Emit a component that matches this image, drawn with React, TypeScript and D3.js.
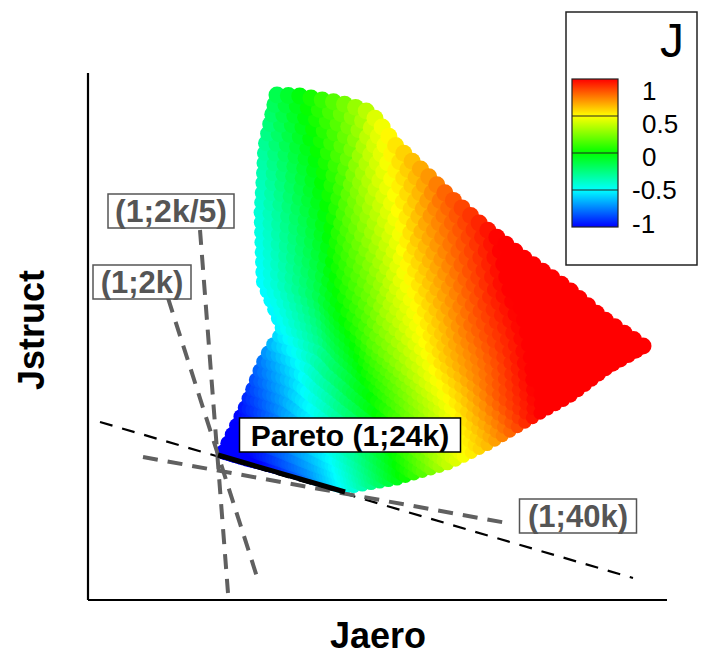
import React, { useMemo } from "react";
import * as d3 from "d3";

// ---- Data (Jaero, Jstruct in plot units; J value of each boundary sample) ----
// Upper boundary of the design-space image (from top-left corner to right tip)
const topEdgeX = [1.89, 2.12, 2.52, 2.77, 2.89, 3.08, 3.40, 3.57, 3.97, 4.37, 4.80, 5.14, 5.55];
const topEdgeY = [5.05, 5.04, 4.97, 4.90, 4.80, 4.54, 4.24, 4.07, 3.72, 3.41, 3.11, 2.82, 2.54];
const topEdgeJ = [-0.15, -0.02, 0.2, 0.35, 0.45, 0.55, 0.7, 0.8, 0.95, 1.1, 1.2, 1.3, 1.4];
// Lower-right boundary (from Pareto end to right tip)
const rightEdgeX = [2.57, 3.09, 3.62, 4.02, 4.42, 4.82, 5.19, 5.55];
const rightEdgeY = [1.12, 1.21, 1.37, 1.57, 1.81, 2.04, 2.33, 2.54];
const rightEdgeJ = [-0.5, -0.05, 0.4, 0.65, 0.95, 1.15, 1.3, 1.4];
// Left boundary (from Pareto start up to top-left corner)
const leftEdgeX = [1.35, 1.41, 1.58, 1.77, 1.95, 1.75, 1.73, 1.77, 1.89];
const leftEdgeY = [1.48, 1.59, 1.94, 2.42, 2.70, 3.19, 3.87, 4.53, 5.05];
const leftEdgeJ = [-1.2, -1.1, -0.95, -0.75, -0.52, -0.5, -0.42, -0.3, -0.15];
// Pareto front boundary
const paretoEdgeX = [1.35, 1.76, 2.16, 2.57];
const paretoEdgeY = [1.48, 1.36, 1.24, 1.12];
const paretoEdgeJ = [-1.2, -1.0, -0.8, -0.5];

// Pareto segment and tangent lines
const paretoLine = [[1.30, 1.45], [2.57, 1.08]];
const tangentLine = [[0.12, 1.78], [5.45, 0.22]];
const grayLines = [
  { name: "(1;40k)", pts: [[0.55, 1.43], [4.19, 0.77]] },
  { name: "(1;2k/5)", pts: [[1.12, 3.70], [1.40, 0.07]] },
  { name: "(1;2k)", pts: [[0.80, 3.02], [1.70, 0.20]] },
];
// Labels: text and centre (data units)
const labelTexts = ["(1;2k/5)", "(1;2k)", "Pareto (1;24k)", "(1;40k)"];
const labelX = [0.83, 0.54, 2.62, 4.90];
const labelY = [3.89, 3.18, 1.65, 0.84];
const labelDark = [false, false, true, false];

const legendValues = [1, 0.5, 0, -0.5, -1];
const colorStops = [-1, -0.5, 0, 0.5, 1];
const colorRange = ["#0000ff", "#00ffff", "#00ff00", "#ffff00", "#ff0000"];

const W = 702, H = 655;
const xScale = d3.scaleLinear().domain([0, 5.79]).range([88, 667]);
const yScale = d3.scaleLinear().domain([0, 5.27]).range([600, 73]);
const color = d3.scaleLinear<string>().domain(colorStops).range(colorRange).clamp(true);

type P = { x: number; y: number; j: number };

function makeCurve(xs: number[], ys: number[], js: number[]) {
  const pts: P[] = xs.map((x, i) => ({ x: xScale(x), y: yScale(ys[i]), j: js[i] }));
  const cum = [0];
  for (let i = 1; i < pts.length; i++) {
    cum.push(cum[i - 1] + Math.hypot(pts[i].x - pts[i - 1].x, pts[i].y - pts[i - 1].y));
  }
  const L = cum[cum.length - 1];
  return (u: number): P => {
    const d = u * L;
    let i = 0;
    while (i < pts.length - 2 && cum[i + 1] < d) i++;
    const f = cum[i + 1] > cum[i] ? Math.min(1, Math.max(0, (d - cum[i]) / (cum[i + 1] - cum[i]))) : 0;
    return {
      x: pts[i].x + f * (pts[i + 1].x - pts[i].x),
      y: pts[i].y + f * (pts[i + 1].y - pts[i].y),
      j: pts[i].j + f * (pts[i + 1].j - pts[i].j),
    };
  };
}

function useCells() {
  return useMemo(() => {
    const bottom = makeCurve(paretoEdgeX, paretoEdgeY, paretoEdgeJ);
    const top = makeCurve(topEdgeX, topEdgeY, topEdgeJ);
    const left = makeCurve(leftEdgeX, leftEdgeY, leftEdgeJ);
    const right = makeCurve(rightEdgeX, rightEdgeY, rightEdgeJ);
    const P00 = bottom(0), P10 = bottom(1), P01 = top(0), P11 = top(1);
    const NS = 40, NT = 38;
    const grid: P[][] = [];
    for (let it = 0; it <= NT; it++) {
      const t = it / NT;
      const row: P[] = [];
      for (let is = 0; is <= NS; is++) {
        const s = is / NS;
        const b = bottom(s), tp = top(s), l = left(t), r = right(t);
        const f = (k: "x" | "y" | "j") =>
          (1 - t) * b[k] + t * tp[k] + (1 - s) * l[k] + s * r[k] -
          ((1 - s) * (1 - t) * P00[k] + s * (1 - t) * P10[k] + (1 - s) * t * P01[k] + s * t * P11[k]);
        row.push({ x: f("x"), y: f("y"), j: f("j") });
      }
      grid.push(row);
    }
    const cells: { x: number; y: number; r: number; c: string }[] = [];
    for (let it = 0; it <= NT; it++) {
      for (let is = 0; is <= NS; is++) {
        const p = grid[it][is];
        const ns = grid[it][is < NS ? is + 1 : is - 1];
        const nt = grid[it < NT ? it + 1 : it - 1][is];
        const ds = Math.hypot(ns.x - p.x, ns.y - p.y);
        const dt = Math.hypot(nt.x - p.x, nt.y - p.y);
        const r = Math.max(3.5, Math.min(8.5, 0.75 * Math.max(ds, dt)));
        cells.push({ x: p.x, y: p.y, r, c: color(p.j) });
      }
    }
    return cells;
  }, []);
}

const FONT = "'Liberation Sans', Arial, Helvetica, sans-serif";

export default function App() {
  const cells = useCells();
  const cbX = 572, cbW = 46;
  const cbY = d3.scaleLinear().domain([-1, 1]).range([227, 79]);
  const cbLabelY = d3.scaleLinear().domain([-1, 1]).range([223, 90]);
  const gradStops = d3.range(0, 21).map((i) => {
    const v = 1 - (2 * i) / 20;
    return { off: i / 20, c: color(v) };
  });
  const line = (pts: number[][]) =>
    d3.line<number[]>().x((d) => xScale(d[0])).y((d) => yScale(d[1]))(pts) || "";

  const labelW = [126, 98, 221, 117];
  const labelFont = [32, 31, 30, 31];

  return (
    <svg
      width={W}
      height={H}
      style={{ position: "absolute", left: 0, top: 0, background: "#fff", display: "block" }}
      fontFamily={FONT}
    >
      <defs>
        <linearGradient id="cbgrad" x1="0" y1="0" x2="0" y2="1">
          {gradStops.map((s, i) => (
            <stop key={i} offset={s.off} stopColor={s.c} />
          ))}
        </linearGradient>
      </defs>
      <rect x={0} y={0} width={W} height={H} fill="#fff" />

      {/* design-space scatter */}
      <g>
        {cells.map((c, i) => (
          <circle key={i} cx={c.x} cy={c.y} r={c.r} fill={c.c} />
        ))}
      </g>

      {/* axes */}
      <line x1={xScale(0)} y1={yScale(0)} x2={xScale(0)} y2={yScale(5.27)} stroke="#000" strokeWidth={2.2} />
      <line x1={xScale(0)} y1={yScale(0)} x2={xScale(5.79)} y2={yScale(0)} stroke="#000" strokeWidth={2.2} />

      {/* tangent lines */}
      <path d={line(tangentLine)} stroke="#000" strokeWidth={2.2} strokeDasharray="13,10" fill="none" />
      {grayLines.map((g, i) => (
        <path key={i} d={line(g.pts)} stroke="#606060" strokeWidth={4} strokeDasharray="15,10" fill="none" />
      ))}
      <path d={line(paretoLine)} stroke="#000" strokeWidth={5} fill="none" />

      {/* labels */}
      {labelTexts.map((t, i) => {
        const cx = xScale(labelX[i]);
        const cy = yScale(labelY[i]);
        const col = labelDark[i] ? "#000" : "#555";
        return (
          <g key={i}>
            <rect x={cx - labelW[i] / 2} y={cy - 17} width={labelW[i]} height={34} fill="#fff" stroke={col} strokeWidth={1.5} />
            <text x={cx} y={cy + labelFont[i] * 0.355} textAnchor="middle" fontSize={labelFont[i]} fontWeight="bold" fill={col}>
              {t}
            </text>
          </g>
        );
      })}

      {/* axis titles */}
      <text x={378} y={648} textAnchor="middle" fontSize={36} fontWeight="bold" fill="#000">
        Jaero
      </text>
      <text transform="translate(44,330) rotate(-90)" textAnchor="middle" fontSize={36} fontWeight="bold" fill="#000">
        Jstruct
      </text>

      {/* legend */}
      <rect x={566} y={12} width={131} height={253} fill="#fff" stroke="#222" strokeWidth={1.5} />
      <text x={684} y={57} textAnchor="end" fontSize={48} fill="#000">
        J
      </text>
      <rect x={cbX} y={cbY(1)} width={cbW} height={cbY(-1) - cbY(1)} fill="url(#cbgrad)" stroke="#222" strokeWidth={1.2} />
      {[0.5, 0, -0.5].map((v) => (
        <line key={v} x1={cbX} x2={cbX + cbW} y1={cbY(v)} y2={cbY(v)} stroke="#222" strokeWidth={1.2} />
      ))}
      {legendValues.map((v) => (
        <text key={v} x={v < 0 ? 632 : 642} y={cbLabelY(v) + 9.5} fontSize={26} fill="#000">
          {v < 0 ? "-" + Math.abs(v) : String(v)}
        </text>
      ))}
    </svg>
  );
}
